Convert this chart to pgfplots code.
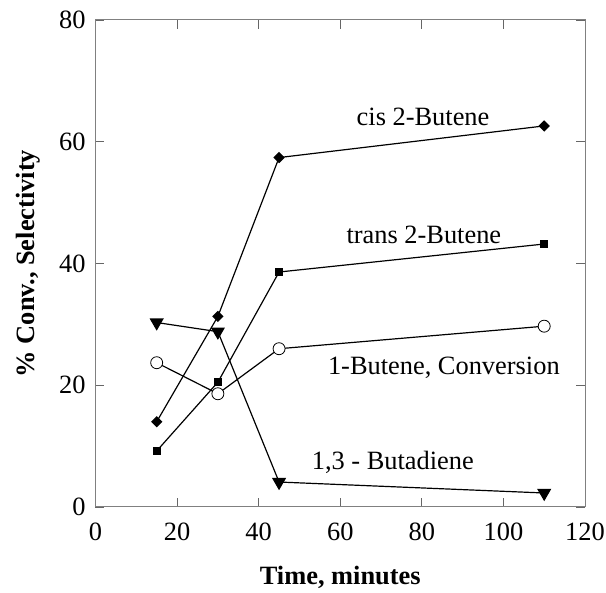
\documentclass[border=0pt]{standalone}
\usepackage{fontspec}
\setmainfont{Liberation Serif}
\usepackage{pgfplots}
\pgfplotsset{compat=1.18}

\newcommand{\bigfont}{\fontsize{26.5}{31}\selectfont}

\begin{document}
\begin{tikzpicture}
\begin{axis}[
    name=ax,
    scale only axis,
    width=489.5bp, height=487bp,
    xmin=0, xmax=120, ymin=0, ymax=80,
    xtick={0,20,...,120}, ytick={0,20,...,80},
    tick align=inside, major tick length=9bp,
    axis line style={black!50, line width=1pt},
    tick style={black!60, line width=0.8pt},
    /pgf/number format/assume math mode=true,
    tick label style={font=\bigfont},
    xticklabel style={yshift=-12bp},
    yticklabel style={xshift=-6.5bp},
    xlabel={\textbf{Time, minutes}},
    ylabel={\textbf{\% Conv., Selectivity}},
    label style={font=\bigfont},
    xlabel style={at={(axis description cs:0.5,0)}, anchor=center, yshift=-70bp},
    ylabel style={at={(axis description cs:0,0.5)}, anchor=center, yshift=67bp},
    every axis plot/.append style={black, line width=1.2pt, mark options={solid}},
]
% cis 2-Butene
\addplot[mark=square*, mark size=3.4bp, mark options={rotate=45}] coordinates {(15,14.0)(30,31.3)(45,57.4)(110,62.6)};
% trans 2-Butene
\addplot[mark=square*, mark size=3.3bp] coordinates {(15,9.2)(30,20.5)(45,38.6)(110,43.2)};
% 1-Butene conversion
\addplot[mark=*, mark size=6bp, mark options={fill=white, line width=0.8pt}] coordinates {(15,23.7)(30,18.6)(45,26.0)(110,29.7)};
% 1,3-Butadiene
\addplot[mark=triangle*, mark size=7bp, mark options={rotate=180}] coordinates {(15,30.3)(30,28.8)(45,4.1)(110,2.3)};

\node[font=\bigfont] at (axis cs:80.3,64.1) {cis 2-Butene};
\node[font=\bigfont] at (axis cs:80.5,44.7) {trans 2-Butene};
\node[font=\bigfont] at (axis cs:85.4,22.8) {1-Butene, Conversion};
\node[font=\bigfont] at (axis cs:72.9,7.4) {1,3 - Butadiene};
\end{axis}
\pgfresetboundingbox
\useasboundingbox ([shift={(-95.5bp,-86bp)}]ax.south west) rectangle ([shift={(21bp,20bp)}]ax.north east);
\end{tikzpicture}
\end{document}
